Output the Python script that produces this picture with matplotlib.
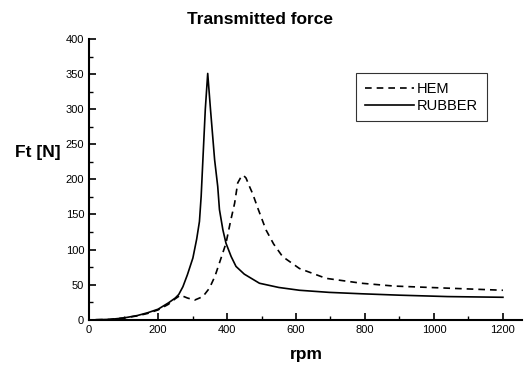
import matplotlib
matplotlib.use("Agg")
import matplotlib.pyplot as plt
from matplotlib.ticker import MultipleLocator

# values
rpm_rubber = [20, 60, 100, 140, 170, 200, 230, 250, 260, 272, 285, 301, 312, 320, 325,
              330, 337, 344, 352, 364, 373, 378, 388, 397, 412, 426, 450, 494, 550,
              610, 696, 790, 900, 1040, 1200]
ft_rubber = [0, 0.5, 2.5, 6, 10, 15, 24, 31, 36, 47, 64, 88, 115, 140, 176,
             228, 300, 351, 300, 228, 190, 157, 128, 109, 90, 76, 65, 52, 46,
             42, 39, 37, 35, 33, 32]

rpm_hem = [20, 60, 100, 140, 170, 200, 230, 250, 265, 285, 306, 330, 349, 365, 378,
           397, 410, 422, 431, 440, 447, 455, 465, 474, 490, 513, 535, 561, 610,
           687, 790, 884, 1040, 1200]
ft_hem = [0, 0.5, 2.5, 5.5, 9, 14, 22, 30, 35, 31, 28, 33, 45, 62, 81,
          109, 140, 166, 195, 203, 206, 202, 190, 180, 158, 128, 108, 90, 73,
          59, 52, 48, 45, 42]

plt.rcParams["font.family"] = ["Liberation Sans", "DejaVu Sans"]

fig = plt.figure(figsize=(5.24, 3.65), dpi=100)
ax = fig.add_axes([0.170, 0.124, 0.826, 0.769])

ax.plot(rpm_hem, ft_hem, color="black", lw=1.2, ls=(0, (4, 3)), label="HEM")
ax.plot(rpm_rubber, ft_rubber, color="black", lw=1.2, label="RUBBER")

ax.set_xlim(0, 1255)
ax.set_ylim(0, 400)
ax.spines["top"].set_visible(False)
ax.spines["right"].set_visible(False)
ax.spines["left"].set_linewidth(1.5)
ax.spines["bottom"].set_linewidth(1.5)

ax.xaxis.set_major_locator(MultipleLocator(200))
ax.xaxis.set_minor_locator(MultipleLocator(100))
ax.yaxis.set_major_locator(MultipleLocator(50))
ax.yaxis.set_minor_locator(MultipleLocator(25))
ax.tick_params(which="major", direction="in", length=5, width=1.2, labelsize=8)
ax.tick_params(which="minor", direction="in", length=3, width=1)

leg = ax.legend(loc="upper left", bbox_to_anchor=(356 / 524, 1 - 73 / 365),
                bbox_transform=fig.transFigure, fontsize=10.5, frameon=True,
                fancybox=False, edgecolor="black", handlelength=3.4,
                borderpad=0.6, labelspacing=0.2, handletextpad=0.2,
                borderaxespad=0)
leg.get_frame().set_linewidth(0.8)

fig.text(260 / 524, 1 - 20 / 365, "Transmitted force", ha="center", va="center",
         fontsize=12.5, fontweight="bold")
fig.text(15 / 524, 1 - 153 / 365, "Ft [N]", ha="left", va="center",
         fontsize=12.5, fontweight="bold")
fig.text(306 / 524, 1 - 355 / 365, "rpm", ha="center", va="center",
         fontsize=12.5, fontweight="bold")

fig.savefig("out.png", dpi=100)
